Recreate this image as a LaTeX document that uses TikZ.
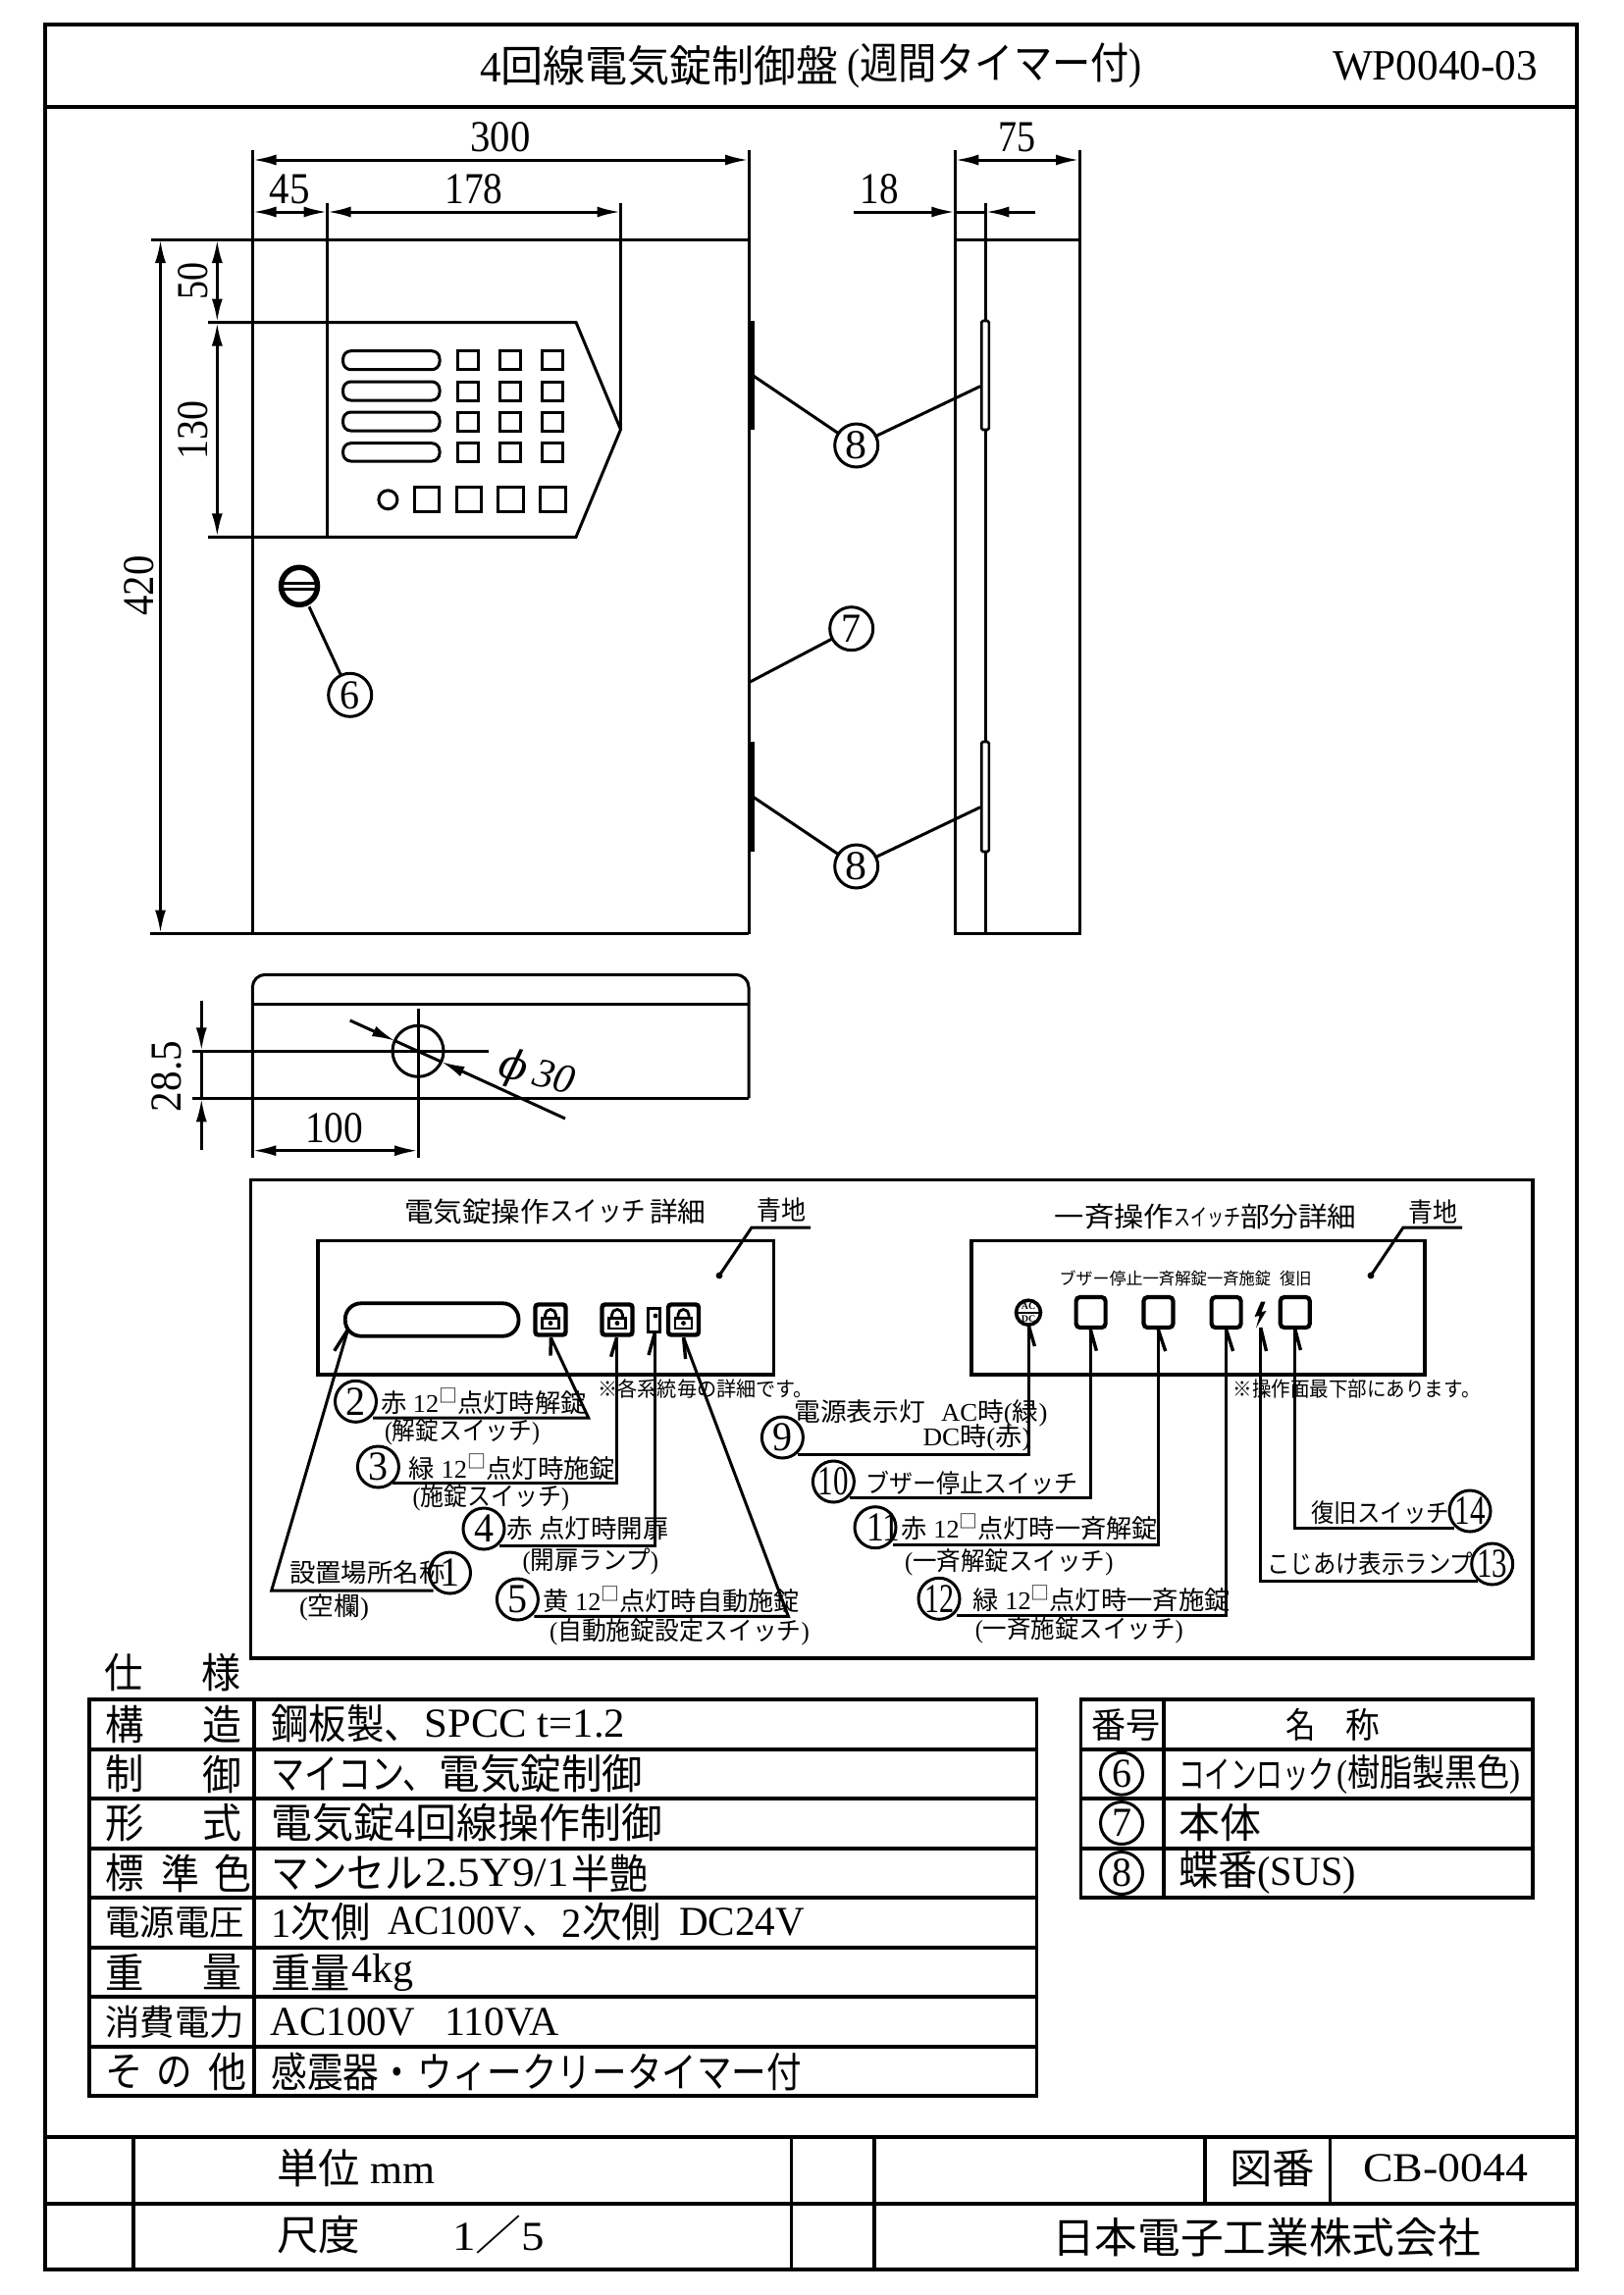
\documentclass[tikz,border=0pt]{standalone}
\usepackage{fontspec}
\usepackage{graphicx}
\usetikzlibrary{arrows.meta}
\setmainfont{Liberation Serif}
\newfontfamily\cjk{Noto Sans CJK JP}
\newfontfamily\phifont{DejaVu Serif}
\newcommand\J[1]{{\cjk #1}}
\newcommand\sq{\raisebox{.38em}{\scalebox{.72}{\J{□}}}}
\newcounter{tn}
% size, x0, x1, y, text
\newcommand\tx[5]{\stepcounter{tn}\pgfmathsetmacro\W{#3-#2}\node[anchor=west,inner sep=0pt,outer sep=0pt] (txt\thetn) at (#2,#4) {\fontsize{#1}{#1}\selectfont\resizebox{\W pt}{\height}{#5}};}
% x, y, rotation, width, text
\newcommand\dt[5]{\stepcounter{tn}\node[inner sep=0pt,rotate=#3] (txt\thetn) at (#1,#2) {\fontsize{45}{45}\selectfont\resizebox{#4pt}{\height}{#5}};}
% name, x, y, radius, width of digits, text
\newcommand\bal[6]{\node[circle,draw,inner sep=0pt,outer sep=0pt,minimum size=#4*2pt] (#1) at (#2,#3) {\fontsize{42}{42}\selectfont\resizebox{#5pt}{\height}{#6}};}
% id, start, bend, tip, barb
\newcommand\leader[5]{\coordinate (#1s) at (#2);\coordinate (#1m) at (#3);\coordinate (#1t) at (#4);\coordinate (#1b) at (#5);\draw[ld] (#1s) -- (#1m) -- (#1t);\draw[bb] (#1t) -- (#1b);}
\newcommand\lockbtn[3]{\node[draw,line width=4.4pt,rounded corners=3pt,minimum width=31pt,minimum height=31pt,inner sep=0pt] (#1) at (#2,#3) {};
\draw[line width=2.8pt] (#2-8.5,#3-1.5) rectangle (#2+8.5,#3+9);
\draw[line width=2.8pt] (#2-5.5,#3-1.5) -- (#2-5.5,#3-5) arc[start angle=180,end angle=360,radius=5.5] -- (#2+5.5,#3-1.5);
\fill (#2,#3+3.5) circle (2.4);}
\newcommand\fbtn[3]{\node[draw,line width=4.2pt,rounded corners=4pt,minimum width=30pt,minimum height=31pt,inner sep=0pt] (#1) at (#2,#3) {};}
\tikzset{
 ld/.style={line width=3pt},
 bb/.style={line width=3.4pt},
 dima/.style={line width=3pt,{Latex[length=24pt,width=11pt]}-{Latex[length=24pt,width=11pt]}},
 dimr/.style={line width=3pt,-{Latex[length=24pt,width=11pt]}},
 tbl/.style={line width=3.8pt},
 pan/.style={line width=3.2pt},
 item/.style={line width=3pt}
}
\begin{document}
\begin{tikzpicture}[x=1pt,y=-1pt,line width=3pt,line join=miter]
\useasboundingbox (0,0) rectangle (1654,2339);
\fill[white] (0,0) rectangle (1654,2339);
% ---- frame
\draw[tbl] (46.3,24.7) rectangle (1607,2313);
\draw[tbl] (46.3,109) -- (1607,109);
\draw[tbl] (46.3,2178) -- (1607,2178);
\draw[tbl] (46.3,2246) -- (1607,2246);
\draw[pan] (136,2178) -- (136,2313);
\draw[pan] (806.5,2178) -- (806.5,2313);
\draw[pan] (891,2178) -- (891,2313);
\draw[pan] (1228,2178) -- (1228,2246);
\draw[pan] (1355.5,2178) -- (1355.5,2246);
\tx{44}{489}{855}{66.7}{4\J{回線電気錠制御盤}}
\tx{44}{863}{1164}{66.7}{(\J{週間タイマー付})}
\tx{44}{1358}{1567}{67}{WP0040-03}
\tx{42}{282}{443}{2210}{\J{単位} mm}
\tx{42}{282}{367}{2278}{\J{尺度}}
\tx{42}{461}{555}{2278}{1\J{／}5}
\tx{42}{1253}{1340}{2210}{\J{図番}}
\tx{42}{1389}{1557}{2210}{CB-0044}
\tx{43}{1072}{1509}{2280}{\J{日本電子工業株式会社}}
% ---- front view
\draw (257.5,153) -- (257.5,951.5);
\draw (763,153) -- (763,951.5);
\draw (154,244) -- (763,244);
\draw (153,951.5) -- (763,951.5);
\draw (333.6,207) -- (333.6,547.3);
\draw (632.5,207) -- (632.5,437.7);
\draw (212,328.5) -- (587,328.5) -- (632.5,437.7) -- (587,547.3) -- (212,547.3);
\draw[dima] (257.5,163) -- (763,163);
\draw[dima] (257.5,216) -- (333.6,216);
\draw[dima] (333.6,216) -- (632.5,216);
\draw[dima] (163.5,244) -- (163.5,951.5);
\draw[dima] (221.3,244) -- (221.3,328.5);
\draw[dima] (221.3,328.5) -- (221.3,547.3);
\dt{510}{140}{0}{61}{300}
\dt{295}{193}{0}{41}{45}
\dt{483}{193}{0}{59}{178}
\dt{197}{286}{90}{38}{50}
\dt{197}{438}{90}{60}{130}
\dt{142}{597}{90}{61}{420}
% panel items
\foreach \ya/\yb in {357.7/376.7,389/408,420/439,451.7/470}{
 \draw[item,rounded corners=8pt] (349.6,\ya) rectangle (448,\yb);
 \draw[item] (466.8,\ya) rectangle (487,\yb);
 \draw[item] (509.6,\ya) rectangle (530,\yb);
 \draw[item] (552.9,\ya) rectangle (573.6,\yb);
}
\draw[item] (395.4,509.3) circle (9.5);
\draw[item] (422,496.7) rectangle (447,521.7);
\draw[item] (465,496.7) rectangle (490,521.7);
\draw[item] (507.9,496.7) rectangle (533.6,521.7);
\draw[item] (550.7,496.7) rectangle (576.4,521.7);
% coin lock
\draw[line width=5.5pt] (305,597.3) ellipse (18.5 and 19);
\draw[line width=2.6pt] (288,594.5) -- (322,594.5);
\draw[line width=2.6pt] (288,600.5) -- (322,600.5);
\coordinate (lock) at (315,618.3);
\bal{b6}{356.7}{708.3}{22}{20}{6}
\draw (lock) -- (b6);
% hinges left
\fill (763,327) rectangle (768.5,438);
\fill (763,756) rectangle (768.5,868);
% ---- side view
\draw (973.3,153) -- (973.3,951.5) -- (1100,951.5) -- (1100,153);
\draw (973.3,244) -- (1100,244);
\draw (1004.3,207) -- (1004.3,951.5);
\draw[fill=white,line width=2.6pt,rounded corners=1.5pt] (1000.2,327) rectangle (1007.8,438);
\draw[fill=white,line width=2.6pt,rounded corners=1.5pt] (1000.2,756) rectangle (1007.8,868);
\draw[dima] (973.3,163) -- (1100,163);
\coordinate (d18a) at (870,216);
\coordinate (d18b) at (973.3,216);
\coordinate (d18c) at (1055,216);
\coordinate (d18d) at (1004.3,216);
\draw[dimr] (d18a) -- (d18b);
\draw[dimr] (d18c) -- (d18d);
\draw (d18b) -- (d18d);
\dt{896}{193}{0}{39}{18}
\dt{1036.6}{140}{0}{38}{75}
% balloons 7, 8
\bal{b7}{867.7}{640.7}{22}{20}{7}
\bal{b8u}{872.7}{454}{22}{22}{8}
\bal{b8l}{872.7}{883}{22}{22}{8}
\coordinate (body7) at (763,695.7);
\coordinate (hlu) at (767.7,383);
\coordinate (hru) at (999,393.7);
\coordinate (hll) at (767.7,812.3);
\coordinate (hrl) at (999,822.7);
\draw (body7) -- (b7);
\draw (hlu) -- (b8u);
\draw (hru) -- (b8u);
\draw (hll) -- (b8l);
\draw (hrl) -- (b8l);
% ---- section view
\draw[rounded corners=13pt] (257.3,1119.3) -- (257.3,993.3) -- (763,993.3) -- (763,1119.3);
\draw (257.3,1119.3) -- (257.3,1180);
\draw (257.3,1023.3) -- (763,1023.3);
\draw (196,1119.3) -- (763,1119.3);
\draw (196,1071.3) -- (498,1071.3);
\draw (426,1027.7) -- (426,1180);
\draw (426,1071.3) circle (26);
\draw[dima] (257.3,1172.7) -- (426,1172.7);
\coordinate (a1) at (205.3,1020);
\coordinate (a2) at (205.3,1071.3);
\coordinate (a3) at (205.3,1171.7);
\coordinate (a4) at (205.3,1119.3);
\draw[dimr] (a1) -- (a2);
\draw[dimr] (a3) -- (a4);
\draw (a2) -- (a4);
\coordinate (p1) at (356.7,1040);
\coordinate (p2) at (403,1061);
\coordinate (p3) at (576,1140);
\coordinate (p4) at (449.5,1082);
\draw[dimr] (p1) -- (p2);
\draw[dimr] (p3) -- (p4);
\draw (p2) -- (p4);
\dt{170}{1097}{90}{72}{28.5}
\dt{340.7}{1150}{0}{59}{100}
\stepcounter{tn}\node[inner sep=0pt,rotate=-14] (txt\thetn) at (547,1095) {\fontsize{42}{42}\selectfont\itshape{\phifont\itshape ϕ}\,30};
% ---- details box
\draw[pan] (255.7,1202.7) rectangle (1562,1690);
\draw[pan] (324,1264.3) rectangle (788.3,1401);
\draw[pan] (990,1264.3) rectangle (1452,1401);
\tx{28}{412}{560}{1235}{\J{電気錠操作}}
\tx{28}{560}{658}{1235}{\J{スイッチ}}
\tx{28}{662}{719.5}{1235}{\J{詳細}}
\tx{27}{771}{821}{1233}{\J{青地}}
\tx{28}{1074.8}{1196}{1240}{\J{一斉操作}}
\tx{24}{1196}{1264}{1241}{\J{スイッチ}}
\tx{28}{1264}{1382.6}{1240}{\J{部分詳細}}
\tx{27}{1435}{1485}{1235}{\J{青地}}
\coordinate (qa1) at (826,1251);\coordinate (qa2) at (766,1251);\coordinate (qa3) at (733,1300);
\coordinate (qb1) at (1490,1251);\coordinate (qb2) at (1430,1251);\coordinate (qb3) at (1397,1300);
\draw[ld] (qa1) -- (qa2) -- (qa3);
\draw[ld] (qb1) -- (qb2) -- (qb3);
\fill (qa3) circle (3.4);
\fill (qb3) circle (3.4);
% left panel items
\draw[line width=3.8pt,rounded corners=16pt] (351.8,1328.3) rectangle (528.5,1361.7);
\lockbtn{k2}{561}{1345}
\lockbtn{k3}{629}{1345}
\lockbtn{k5}{696.5}{1345}
\draw[line width=3pt] (660.5,1333) rectangle (672,1357);
\fill (668,1341) circle (2.4);
\tx{21}{609.6}{829}{1415}{\J{※各系統毎の詳細です。}}
% right panel items
\node[circle,draw,line width=3.6pt,minimum size=25pt,inner sep=0pt] (lamp) at (1048,1337.7) {};
\draw[line width=2.4pt] (1036,1337.7) -- (1060,1337.7);
\node[inner sep=0pt] (lampa) at (1048,1331.5) {\fontsize{10}{10}\selectfont\bfseries AC};
\node[inner sep=0pt] (lampd) at (1048,1344) {\fontsize{10}{10}\selectfont\bfseries DC};
\fbtn{f10}{1111.6}{1337.5}
\fbtn{f11}{1180.5}{1337.5}
\fbtn{f12}{1249.6}{1337.5}
\fbtn{f14}{1319.8}{1337.5}
\fill (1285,1326.7) -- (1278.5,1342) -- (1283.5,1341) -- (1280,1353.5) -- (1290.5,1336) -- (1285.5,1337) -- (1289.5,1326.7) -- cycle;
\tx{17}{1079.6}{1164.5}{1303}{\J{ブザー停止}}
\tx{17}{1164.5}{1230}{1303}{\J{一斉解錠}}
\tx{17}{1230}{1295}{1303}{\J{一斉施錠}}
\tx{17}{1304}{1336.5}{1303}{\J{復旧}}
\tx{21}{1256.6}{1508.6}{1416}{\J{※操作面最下部にあります。}}
% leaders left
\leader{l1}{441.5,1621}{276.7,1621}{354.6,1355}{340.7,1376.7}
\leader{l2}{380,1445}{599.7,1445}{561.4,1363.3}{561,1381.7}
\leader{l3}{400,1511.7}{628.6,1511.7}{628.6,1363}{622.6,1382.7}
\leader{l4}{508.8,1575}{667.7,1575}{667.7,1357}{661,1381}
\leader{l5}{544.4,1647.3}{803.4,1647.3}{696.6,1363.3}{698.6,1385}
% leaders right
\leader{l9}{813,1482.7}{1048,1482.7}{1048,1350}{1054.4,1372}
\leader{l10}{866,1526.7}{1111,1526.7}{1111,1354}{1117.4,1376.7}
\leader{l11}{910,1574.3}{1180,1574.3}{1180,1354}{1187.7,1377}
\leader{l12}{975.4,1646.7}{1249.3,1646.7}{1249.3,1354}{1256.6,1377}
\leader{l13}{1506,1611.7}{1284.7,1611.7}{1284.7,1353}{1290.5,1377}
\leader{l14}{1482,1557.7}{1319.6,1557.7}{1319.6,1354}{1325.4,1376}
% balloons
\begin{scope}[line width=3pt]
\bal{c1}{458.5}{1603}{21}{20}{1}
\bal{c2}{362.5}{1428.3}{21}{20}{2}
\bal{c3}{385.4}{1495}{21}{20}{3}
\bal{c4}{493}{1558}{21}{20}{4}
\bal{c5}{527.4}{1630}{21}{20}{5}
\bal{c9}{797.4}{1465}{21}{20}{9}
\bal{c10}{849.4}{1510}{21}{31}{10}
\bal{c11}{892}{1556.7}{21}{0.1}{\phantom{1}}
\stepcounter{tn}\node[inner sep=0pt] (txt\thetn) at (900,1556.7) {\fontsize{42}{42}\selectfont\resizebox{34pt}{\height}{11}};
\bal{c12}{957}{1629.3}{21}{30}{12}
\bal{c13}{1520.7}{1594}{21}{31}{13}
\bal{c14}{1498}{1540}{21}{31}{14}
\end{scope}
% detail texts
\tx{26}{388}{597.7}{1428}{\J{赤} 12\sq\J{点灯時解錠}}
\tx{26}{392}{550}{1459}{(\J{解錠スイッチ})}
\tx{26}{416.6}{627.4}{1495}{\J{緑} 12\sq\J{点灯時施錠}}
\tx{26}{420.6}{580}{1526.7}{(\J{施錠スイッチ})}
\tx{26}{516.7}{681.6}{1558}{\J{赤 点灯時開扉}}
\tx{26}{532.5}{671}{1591.7}{(\J{開扉ランプ})}
\tx{26}{295}{453.4}{1603}{\J{設置場所名称}}
\tx{26}{305}{376}{1638}{(\J{空欄})}
\tx{26}{553.4}{815}{1630}{\J{黄} 12\sq\J{点灯時自動施錠}}
\tx{26}{560}{825}{1663}{(\J{自動施錠設定スイッチ})}
\tx{26}{809.3}{1067.5}{1440}{\J{電源表示灯}\hspace{.6em}AC\J{時}(\J{緑})}
\tx{26}{940.5}{1050.6}{1465}{DC\J{時}(\J{赤})}
\tx{26}{882.4}{1098}{1511}{\J{ブザー停止スイッチ}}
\tx{26}{918.7}{1180}{1556.7}{\J{赤} 12\sq\J{点灯時一斉解錠}}
\tx{26}{922}{1134.4}{1592.7}{(\J{一斉解錠スイッチ})}
\tx{26}{991.4}{1254}{1629.3}{\J{緑} 12\sq\J{点灯時一斉施錠}}
\tx{26}{993.8}{1205.7}{1661.7}{(\J{一斉施錠スイッチ})}
\tx{26}{1336.5}{1477}{1541.7}{\J{復旧スイッチ}}
\tx{26}{1291.5}{1501}{1594}{\J{こじあけ表示ランプ}}
% ---- spec table
\tx{42}{106.7}{146}{1705}{\J{仕}}
\tx{42}{205.4}{245.4}{1705}{\J{様}}
\draw[tbl] (90.7,1732.3) rectangle (1056.5,2136);
\draw[tbl] (259,1732.3) -- (259,2136);
\foreach \yy in {1783.3,1833.3,1883.7,1934.3,1984.7,2035.3,2086}{\draw[tbl] (90.7,\yy) -- (1056.5,\yy);}
\tx{42}{107.6}{147}{1757}{\J{構}}
\tx{42}{206.8}{246.8}{1757}{\J{造}}
\tx{42}{107.6}{147}{1808}{\J{制}}
\tx{42}{206.8}{246.8}{1808}{\J{御}}
\tx{42}{107.6}{147}{1858}{\J{形}}
\tx{42}{206.8}{246.8}{1858}{\J{式}}
\tx{42}{107.6}{147}{1909}{\J{標}}
\tx{42}{164}{203}{1909}{\J{準}}
\tx{42}{218}{256}{1909}{\J{色}}
\tx{36}{107.6}{249}{1959}{\J{電源電圧}}
\tx{42}{107.6}{147}{2010}{\J{重}}
\tx{42}{206.8}{246.8}{2010}{\J{量}}
\tx{36}{107.6}{249}{2060.7}{\J{消費電力}}
\tx{42}{107.6}{146}{2111.7}{\J{そ}}
\tx{42}{159.5}{196}{2111.7}{\J{の}}
\tx{42}{212}{251}{2111.7}{\J{他}}
\tx{42}{276.6}{430}{1757}{\J{鋼板製、}}
\tx{42}{432.7}{637}{1757}{SPCC t=1.2}
\tx{42}{276.6}{445}{1808}{\J{マイコン、}}
\tx{42}{447.4}{655.4}{1808}{\J{電気錠制御}}
\tx{42}{276.6}{675}{1858}{\J{電気錠}4\J{回線操作制御}}
\tx{42}{276.6}{431}{1909}{\J{マンセル}}
\tx{42}{433}{580}{1909}{2.5Y9/1}
\tx{42}{582}{660}{1909}{\J{半艶}}
\tx{42}{276.6}{377.6}{1959}{1\J{次側}}
\tx{42}{395}{570}{1959}{AC100V\J{、}}
\tx{42}{572.8}{673.8}{1959}{2\J{次側}}
\tx{42}{692}{820}{1959}{DC24V}
\tx{42}{276.6}{357}{2010}{\J{重量}}
\tx{42}{358}{421}{2010}{4kg}
\tx{42}{275.7}{423.5}{2060.7}{AC100V}
\tx{42}{453.4}{569.5}{2060.7}{110VA}
\tx{42}{276.6}{423}{2111.7}{\J{感震器・}}
\tx{42}{425.8}{816.7}{2111.7}{\J{ウィークリータイマー付}}
% ---- parts table
\draw[tbl] (1101.4,1732.3) rectangle (1561.6,1934);
\draw[tbl] (1185.6,1732.3) -- (1185.6,1934);
\foreach \yy in {1782.7,1833.3,1884}{\draw[tbl] (1101.4,\yy) -- (1561.6,\yy);}
\tx{36}{1112.7}{1183}{1758}{\J{番号}}
\tx{36}{1310.6}{1341}{1758}{\J{名}}
\tx{36}{1371.8}{1406.5}{1758}{\J{称}}
\begin{scope}[line width=3pt]
\bal{r6}{1143}{1807.7}{21.5}{20}{6}
\bal{r7}{1143}{1858}{21.5}{20}{7}
\bal{r8}{1143}{1909}{21.5}{20}{8}
\end{scope}
\tx{38}{1201}{1360}{1809}{\J{コインロック}}
\tx{38}{1362}{1550}{1809}{(\J{樹脂製黒色})}
\tx{42}{1201}{1285}{1858}{\J{本体}}
\tx{42}{1201}{1382}{1908}{\J{蝶番}(SUS)}
\end{tikzpicture}
\end{document}
